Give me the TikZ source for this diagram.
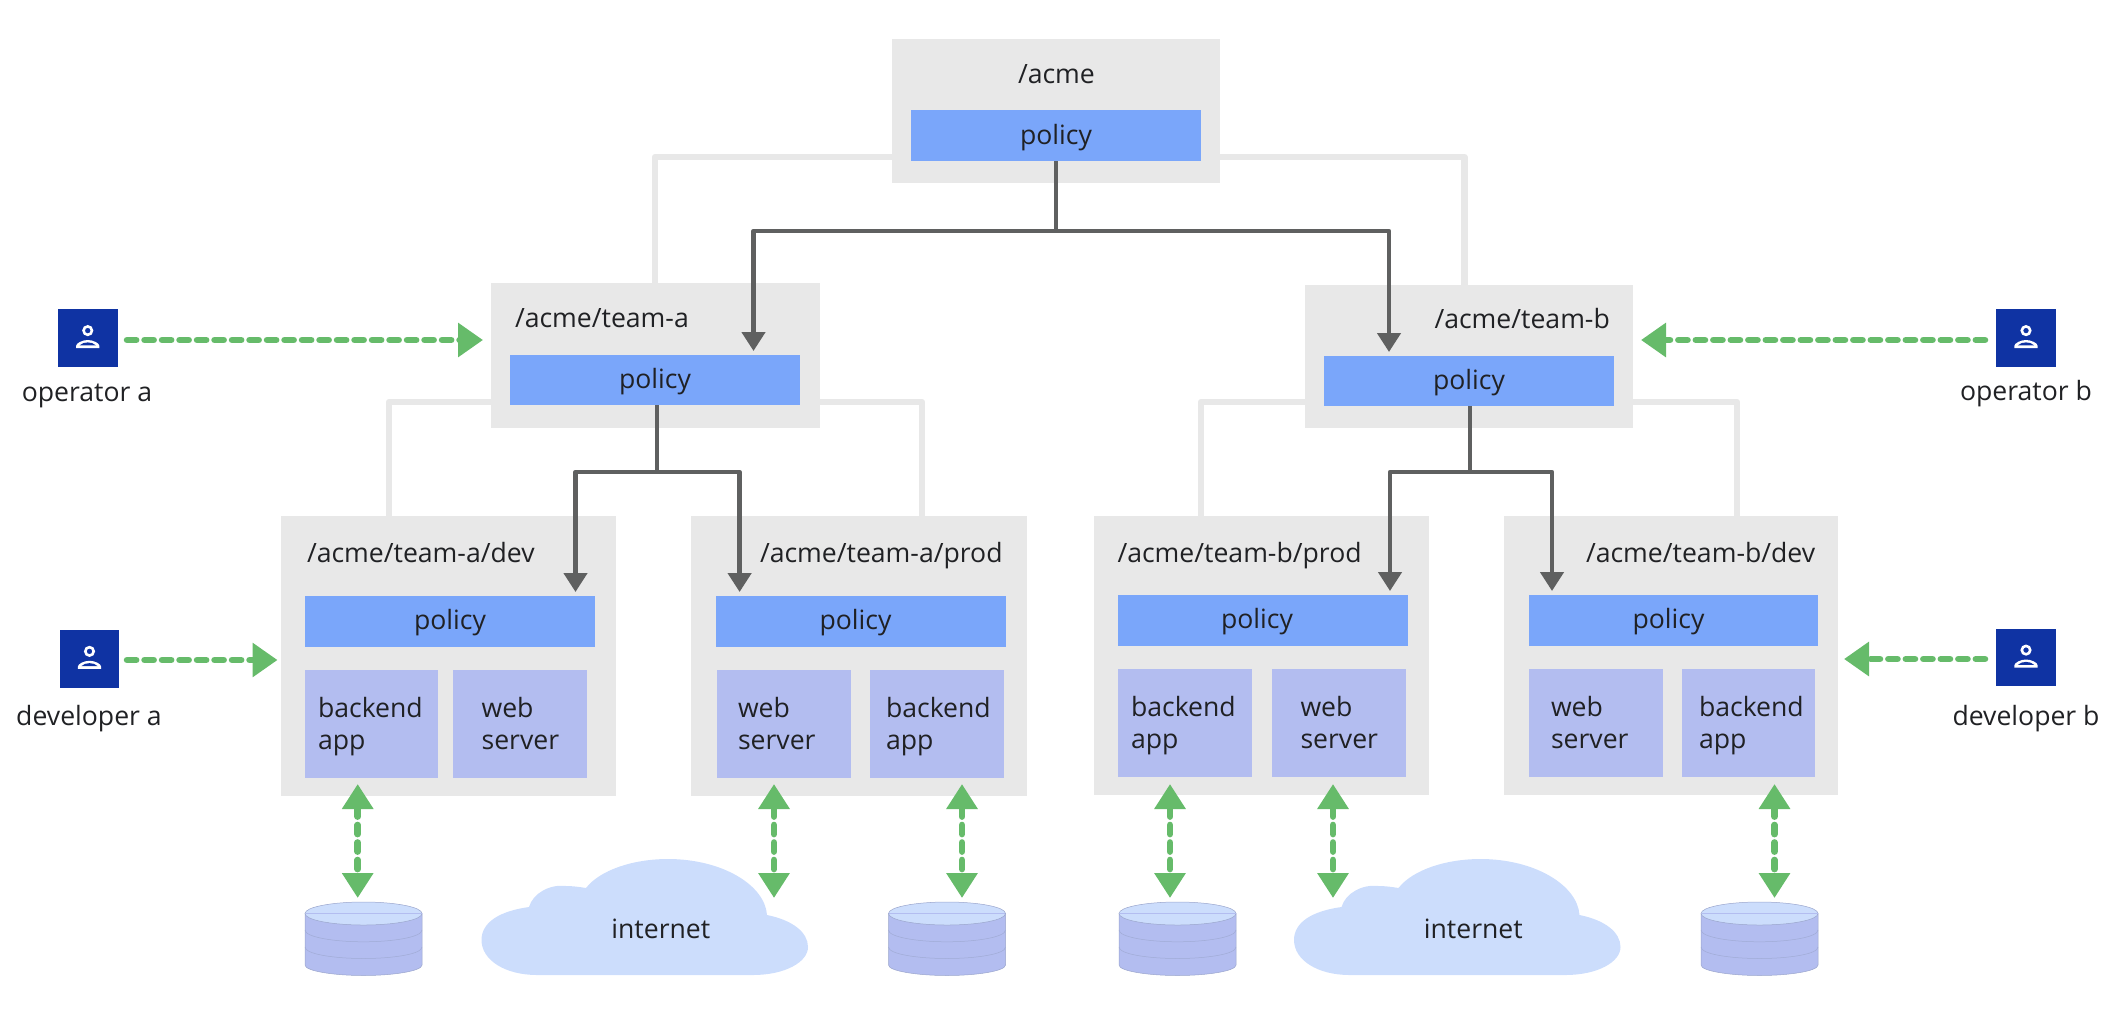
\documentclass[tikz,border=0pt]{standalone}
\usepackage{fontspec}
\setmainfont{Open Sans}
\usetikzlibrary{arrows.meta,calc}
\definecolor{boxgrey}{HTML}{E8E8E8}
\definecolor{policyblue}{HTML}{7AA6FA}
\definecolor{appblue}{HTML}{B3BDF0}
\definecolor{iconblue}{HTML}{0F33A3}
\definecolor{arrowgreen}{HTML}{66BB6A}
\definecolor{darkline}{HTML}{5F6060}
\definecolor{cloudblue}{HTML}{CCDDFC}
\definecolor{dbline}{HTML}{9AA5CC}
\definecolor{inktext}{HTML}{202124}
\tikzset{
  txt/.style={font=\fontsize{26.6}{32}\selectfont,text=inktext,inner sep=0pt,outer sep=0pt},
  plain/.style={inner sep=0pt,outer sep=0pt},
  nsbox/.style={plain,fill=boxgrey},
  policybox/.style={plain,fill=policyblue,txt,text height=21pt,text depth=5pt},
  appbox/.style={plain,fill=appblue},
  iconbox/.style={plain,fill=iconblue},
  lightline/.style={draw=boxgrey,line width=6.3pt,line join=round},
  darkbase/.style={draw=darkline,line width=4.5pt,line join=round},
  darkarrow/.style={darkbase,-{Triangle[length=19pt,width=23pt]},shorten >=4pt},
  greenbase/.style={draw=arrowgreen,line width=6.5pt,line cap=round,dash pattern=on 9.2pt off 8.3pt},
  greenarrow/.style={greenbase,-{Triangle[length=25pt,width=33pt]}},
  greenboth/.style={greenbase,{Triangle[length=25pt,width=30pt]}-{Triangle[length=25pt,width=30pt]}},
  person/.pic={
    \draw[white,line width=2.6pt] (0,-7.4) circle (4.2pt);
    \fill[white] (-11.7,10) -- (-11.7,8) .. controls (-11.7,5) and (-5,2) .. (0,2)
      .. controls (5,2) and (11.7,5) .. (11.7,8) -- (11.7,10) -- cycle;
    \fill[iconblue] (-8.2,7.4) .. controls (-6,5.2) and (-3,4.4) .. (0,4.4)
      .. controls (3,4.4) and (6,5.2) .. (8.2,7.4) -- cycle;
  },
  cloudshape/.pic={
    \fill[cloudblue] (537,975) .. controls (505,975) and (481.5,960) .. (481.5,940)
      .. controls (481.5,922) and (500,911) .. (529,907)
      .. controls (533,893) and (550,884) .. (566,886)
      .. controls (573,886) and (580,887) .. (586,888)
      .. controls (600,870) and (633,859) .. (668,859)
      .. controls (722,859) and (765,885) .. (767,915)
      .. controls (792,920) and (808,932) .. (808,947)
      .. controls (808,962) and (785,975) .. (753,975) -- cycle;
  },
  dbshape/.pic={
    \filldraw[fill=appblue,draw=dbline,line width=.5pt] (-58.5,913.5) -- (-58.5,965)
      .. controls (-58.5,971) and (-30,975.5) .. (0,975.5)
      .. controls (30,975.5) and (58.5,971) .. (58.5,965) -- (58.5,913.5) -- cycle;
    \draw[dbline!75!appblue,line width=.5pt] (-58.5,930) .. controls (-58.5,937) and (-30,941.8) .. (0,941.8)
      .. controls (30,941.8) and (58.5,937) .. (58.5,930);
    \draw[dbline!75!appblue,line width=.5pt] (-58.5,947) .. controls (-58.5,954) and (-30,958.5) .. (0,958.5)
      .. controls (30,958.5) and (58.5,954) .. (58.5,947);
    \filldraw[fill=cloudblue,draw=dbline,line width=.5pt] (0,913.5) ellipse (58.5pt and 11.5pt);
    \draw[appblue,line width=.5pt] (-58,913.5) -- (58,913.5);
  }
}
\newcommand{\rectnode}[6]{%
  \node[#1,minimum width={(#5-#3)*1pt},minimum height={(#6-#4)*1pt}] (#2) at ({(#3+#5)/2},{(#4+#6)/2})}
\newcommand{\lab}[4]{\node[txt,anchor=base west] (#1) at (#2,#3) {#4};}
\newcommand{\lone}[4]{\node[txt,anchor=west,align=left] (#1) at (#2,#3) {#4};}
\begin{document}
\begin{tikzpicture}[x=1pt,y=-1pt]
\useasboundingbox (0,0) rectangle (2124,1028);
% namespace boxes
\rectnode{nsbox}{acme}{892}{39}{1220}{183} {};
\rectnode{nsbox}{teama}{491}{283}{820}{428} {};
\rectnode{nsbox}{teamb}{1305}{285}{1633}{428} {};
\rectnode{nsbox}{adev}{281}{516}{616}{796} {};
\rectnode{nsbox}{aprod}{691}{516}{1026.6}{796} {};
\rectnode{nsbox}{bprod}{1094}{516}{1429}{795} {};
\rectnode{nsbox}{bdev}{1504}{516}{1838}{795} {};
% policies
\rectnode{policybox,text height=22.5pt}{pacme}{911}{110}{1201}{161} {policy};
\rectnode{policybox}{pteama}{510}{355}{800}{405} {policy};
\rectnode{policybox}{pteamb}{1324}{356}{1614}{406} {policy};
\rectnode{policybox}{padev}{305}{596}{595}{647} {policy};
\rectnode{policybox}{paprod}{716}{596}{1006}{647} {policy\kern 11pt};
\rectnode{policybox}{pbprod}{1118}{595}{1408}{646} {policy\kern 12pt};
\rectnode{policybox}{pbdev}{1529}{595}{1818}{646} {policy\kern 10pt};
% titles
\lab{tacme}{1018}{83}{/acme}
\lab{tteama}{515}{327}{/acme/team-a}
\lab{tteamb}{1434.5}{328}{/acme/team-b}
\lab{tadev}{307}{562}{/acme/team-a/dev}
\lab{taprod}{760}{562}{/acme/team-a/prod}
\lab{tbprod}{1117.5}{562}{/acme/team-b/prod}
\lab{tbdev}{1586}{562}{/acme/team-b/dev}
% app boxes
\rectnode{appbox}{a1}{304.5}{670}{438}{778} {};
\rectnode{appbox}{a2}{453}{670}{587}{778} {};
\rectnode{appbox}{a3}{717}{670}{851}{778} {};
\rectnode{appbox}{a4}{870}{670}{1004}{778} {};
\rectnode{appbox}{a5}{1118}{669}{1252}{777} {};
\rectnode{appbox}{a6}{1272}{669}{1406}{777} {};
\rectnode{appbox}{a7}{1529}{669}{1663}{777} {};
\rectnode{appbox}{a8}{1682}{669}{1815}{777} {};
\lone{ta1}{318}{727}{backend\\app}
\lone{ta2}{481.6}{724}{web\\server}
\lone{ta3}{738}{724}{web\\server}
\lone{ta4}{886}{727}{backend\\app}
\lone{ta5}{1131}{726}{backend\\app}
\lone{ta6}{1300.5}{723}{web\\server}
\lone{ta7}{1551}{723}{web\\server}
\lone{ta8}{1699}{726}{backend\\app}
% light connectors
\coordinate (la) at (655,157);
\coordinate (lb) at (1464.5,157);
\coordinate (lc) at (389,402);
\coordinate (ld) at (922,402);
\coordinate (le) at (1201,402);
\coordinate (lf) at (1737,402);
\draw[lightline] (acme.west |- la) -- (la) -- (la |- teama.north);
\draw[lightline] (acme.east |- lb) -- (lb) -- (lb |- teamb.north);
\draw[lightline] (teama.west |- lc) -- (lc) -- (lc |- adev.north);
\draw[lightline] (teama.east |- ld) -- (ld) -- (ld |- aprod.north);
\draw[lightline] (teamb.west |- le) -- (le) -- (le |- bprod.north);
\draw[lightline] (teamb.east |- lf) -- (lf) -- (lf |- bdev.north);
% dark connectors
\coordinate (ja) at (1056,231);
\coordinate (jb) at (657,472);
\coordinate (jc) at (1470,472);
\coordinate (ka) at (753.5,231);
\coordinate (kb) at (1389,231);
\coordinate (kc) at (575.5,472);
\coordinate (kd) at (739.6,472);
\coordinate (ke) at (1390,472);
\coordinate (kf) at (1552,472);
\draw[darkbase] (pacme.south -| ja) -- (ja);
\draw[darkbase] (pteama.south -| jb) -- (jb);
\draw[darkbase] (pteamb.south -| jc) -- (jc);
\draw[darkarrow] (ja) -- (ka) -- (ka |- pteama.north);
\draw[darkarrow] (ja) -- (kb) -- (kb |- pteamb.north);
\draw[darkarrow] (jb) -- (kc) -- (kc |- padev.north);
\draw[darkarrow] (jb) -- (kd) -- (kd |- paprod.north);
\draw[darkarrow] (jc) -- (ke) -- (ke |- pbprod.north);
\draw[darkarrow] (jc) -- (kf) -- (kf |- pbdev.north);
% people
\rectnode{iconbox}{opa}{58}{309}{117.5}{367} {};
\rectnode{iconbox}{deva}{60}{630}{119}{687.5} {};
\rectnode{iconbox}{opb}{1996}{309}{2056}{367} {};
\rectnode{iconbox}{devb}{1996}{629}{2056}{686} {};
\pic at (opa.center) {person};
\pic at (deva.center) {person};
\pic at (opb.center) {person};
\pic at (devb.center) {person};
\node[txt,anchor=base] (topa) at (87,401) {operator a};
\node[txt,anchor=base] (tdeva) at (89,725) {developer a};
\node[txt,anchor=base] (topb) at (2026,400) {operator b};
\node[txt,anchor=base] (tdevb) at (2026,725) {developer b};
% access arrows
\coordinate (ga) at (127,340);
\coordinate (gb) at (483,340);
\coordinate (gc) at (127,660);
\coordinate (gd) at (277.5,660);
\coordinate (ge) at (1985,340);
\coordinate (gf) at (1641,340);
\coordinate (gg) at (1985,659);
\coordinate (gh) at (1844,659);
\draw[greenarrow] (ga) -- (gb);
\draw[greenarrow] (gc) -- (gd);
\draw[greenarrow] (ge) -- (gf);
\draw[greenarrow] (gg) -- (gh);
% clouds and databases
\pic at (0,0) {cloudshape};
\pic at (812.5,0) {cloudshape};
\node[txt,anchor=base] (inta) at (660.8,938) {internet};
\node[txt,anchor=base] (intb) at (1473.3,938) {internet};
\pic (d1) at (363.5,0) {dbshape};
\pic (d2) at (947,0) {dbshape};
\pic (d3) at (1177.5,0) {dbshape};
\pic (d4) at (1759.5,0) {dbshape};
\foreach \n/\x in {va/357.7,vb/774,vc/962,vd/1170,ve/1333,vf/1774.5}{
  \coordinate (\n t) at (\x,784);
  \coordinate (\n b) at (\x,898);
  \draw[greenboth] (\n t) -- (\n b);
}
\end{tikzpicture}
\end{document}
